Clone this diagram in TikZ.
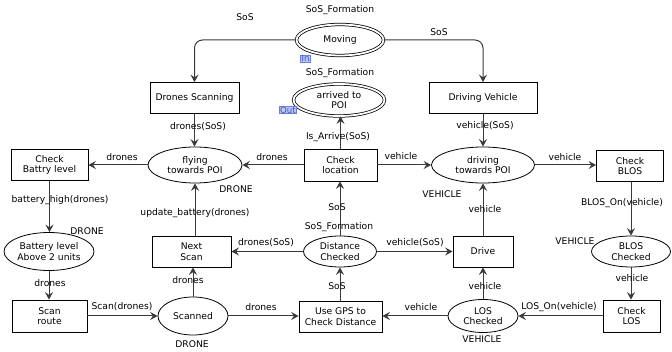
\documentclass[tikz,border=0pt]{standalone}
\usepackage{fontspec}
\setmainfont{DejaVu Sans}
\usetikzlibrary{arrows.meta,shapes.geometric}
\definecolor{lc}{HTML}{3A3A3A}
\definecolor{tagfill}{HTML}{BCC6F5}
\definecolor{tagdraw}{HTML}{6A7EE0}
\definecolor{tagtext}{HTML}{3F52C8}
\tikzset{
  every node/.style={font=\fontsize{9.2}{10.6}\selectfont, inner sep=0pt},
  trans/.style={draw=black, line width=0.8pt, rectangle, align=center, fill=white},
  place/.style={draw=black, line width=0.8pt, ellipse, align=center, fill=white},
  dplace/.style={draw=black, line width=0.75pt, double, double distance=1.8pt, ellipse, align=center},
  arr/.style={draw=lc, line width=1pt, -{Stealth[length=7.5pt,width=8pt,inset=2.8pt]}},
  lab/.style={text=black},
  tag/.style={draw=tagdraw, fill=tagfill, text=tagtext, line width=0.6pt, font=\fontsize{8.6}{9}\selectfont, inner xsep=1pt, inner ysep=0.3pt}
}
\begin{document}
\begin{tikzpicture}[x=1pt,y=-1pt]
\useasboundingbox (0,0) rectangle (672,352);
% places (top)
\node[dplace, minimum width=87, minimum height=31] (mov) at (340,40) {Moving};
\node[dplace, minimum width=91, minimum height=32] (arr) at (339,100) {arrived to\\POI};
\node[tag] (tin) at (305.5,58.5) {In};
\node[tag] (tout) at (288,110) {Out};
% transitions top
\node[trans, minimum width=89, minimum height=31] (ds) at (194.5,98) {Drones Scanning};
\node[trans, minimum width=108, minimum height=31] (dv) at (483,98) {Driving Vehicle};
% row 1
\node[trans, minimum width=77, minimum height=31] (cb) at (49.5,165) {Check\\Battry level};
\node[place, minimum width=94, minimum height=36] (fly) at (195,165) {flying\\towards POI};
\node[trans, minimum width=73, minimum height=32] (cl) at (340.5,165) {Check\\location};
\node[place, minimum width=103, minimum height=36] (drv) at (483,165) {driving\\towards POI};
\node[trans, minimum width=67, minimum height=31] (cbl) at (630,166) {Check\\BLOS};
% row 2
\node[place, minimum width=90, minimum height=38] (bl) at (49,251.5) {Battery level\\Above 2 units};
\node[trans, minimum width=79, minimum height=31] (ns) at (191.5,251.5) {Next\\Scan};
\node[place, minimum width=73, minimum height=31] (dc) at (340,251.5) {Distance\\Checked};
\node[trans, minimum width=60, minimum height=31] (dr) at (483,251.5) {Drive};
\node[place, minimum width=79, minimum height=31] (blc) at (631,251.5) {BLOS\\Checked};
% row 3
\node[trans, minimum width=75, minimum height=32] (sr) at (49.5,316) {Scan\\route};
\node[place, minimum width=70, minimum height=38] (sc) at (193,316) {Scanned};
\node[trans, minimum width=83, minimum height=31] (gps) at (340.5,316.5) {Use GPS to\\Check Distance};
\node[place, minimum width=70, minimum height=33] (los) at (483,316) {LOS\\Checked};
\node[trans, minimum width=57, minimum height=32] (clos) at (631.5,316) {Check\\LOS};
% connectors
\draw[arr, rounded corners=8pt] (mov.west) -| (ds.north);
\draw[arr, rounded corners=8pt] (mov.east) -| (dv.north);
\draw[arr] (ds.south) -- (ds.south |- fly.north);
\draw[arr] (dv.south) -- (drv.north);
\draw[arr] (fly.west) -- (cb.east);
\draw[arr] (cl.west) -- (fly.east);
\draw[arr] (cl.north) -- (cl.north |- arr.south);
\draw[arr] (cl.east) -- (drv.west);
\draw[arr] (drv.east) -- (cbl.west |- drv.east);
\draw[arr] (cb.south) -- (cb.south |- bl.north);
\draw[arr] (bl.south) -- (bl.south |- sr.north);
\draw[arr] (sr.east) -- (sc.west);
\draw[arr] (sc.north) -- (sc.north |- ns.south);
\draw[arr] (ns.north -| fly.south) -- (fly.south);
\draw[arr] (sc.east) -- (gps.west |- sc.east);
\draw[arr] (gps.north -| dc.south) -- (dc.south);
\draw[arr] (dc.north) -- (cl.south -| dc.north);
\draw[arr] (dc.west) -- (ns.east |- dc.west);
\draw[arr] (dc.east) -- (dr.west |- dc.east);
\draw[arr] (dr.north) -- (drv.south);
\draw[arr] (los.north) -- (dr.south);
\draw[arr] (los.west) -- (gps.east |- los.west);
\draw[arr] (clos.west) -- (los.east);
\draw[arr] (blc.south) -- (blc.south |- clos.north);
\draw[arr] (cbl.south -| blc.north) -- (blc.north);
% labels
\node[lab] (l1) at (340,10) {SoS\_Formation};
\node[lab] (l2) at (245,17) {SoS};
\node[lab] (l3) at (439,32) {SoS};
\node[lab] (l4) at (340,73) {SoS\_Formation};
\node[lab] (l5) at (198,127) {drones(SoS)};
\node[lab] (l6) at (485,126) {vehicle(SoS)};
\node[lab] (l7) at (338,137) {Is\_Arrive(SoS)};
\node[lab] (l8) at (122,157) {drones};
\node[lab] (l9) at (272,157) {drones};
\node[lab] (l10) at (401,156) {vehicle};
\node[lab] (l11) at (565,157) {vehicle};
\node[lab] (l12) at (236,189) {DRONE};
\node[lab] (l13) at (442,194) {VEHICLE};
\node[lab] (l14) at (60,200) {battery\_high(drones)};
\node[lab] (l15) at (622,203) {BLOS\_On(vehicle)};
\node[lab] (l16) at (337,207) {SoS};
\node[lab] (l17) at (485,209) {vehicle};
\node[lab] (l18) at (195,213) {update\_battery(drones)};
\node[lab] (l19) at (339,227) {SoS\_Formation};
\node[lab] (l20) at (87,231) {DRONE};
\node[lab] (l21) at (575,241) {VEHICLE};
\node[lab] (l22) at (266,243) {drones(SoS)};
\node[lab] (l23) at (415,243) {vehicle(SoS)};
\node[lab] (l24) at (632,278) {vehicle};
\node[lab] (l25) at (188,280) {drones};
\node[lab] (l26) at (50,283) {drones};
\node[lab] (l27) at (337,286) {SoS};
\node[lab] (l28) at (485,286) {vehicle};
\node[lab] (l29) at (122,307) {Scan(drones)};
\node[lab] (l30) at (261,307) {drones};
\node[lab] (l31) at (421,307) {vehicle};
\node[lab] (l32) at (559,307) {LOS\_On(vehicle)};
\node[lab] (l33) at (482,339) {VEHICLE};
\node[lab] (l34) at (192,344) {DRONE};
\end{tikzpicture}
\end{document}
